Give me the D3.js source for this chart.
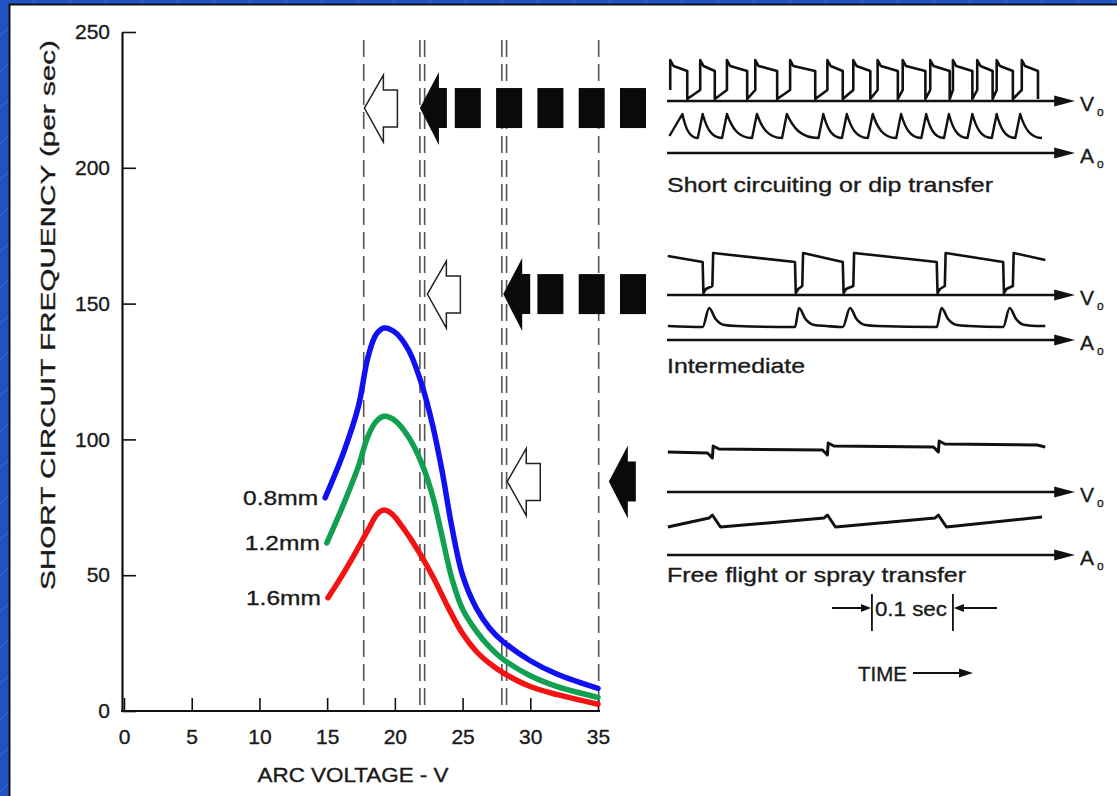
<!DOCTYPE html>
<html><head><meta charset="utf-8">
<script src="https://cdnjs.cloudflare.com/ajax/libs/d3/7.8.5/d3.min.js"></script>
<style>
body{margin:0;background:#2152c2;}
svg{display:block;}
text{font-family:"Liberation Sans",Arial,Helvetica,sans-serif;fill:#1a1a1a;stroke:#1a1a1a;stroke-width:0.35px;}
</style>
</head><body>
<svg id="c" width="1117" height="796"></svg>
<script>
// ---------------- DATA ----------------
const xTicks = [0, 5, 10, 15, 20, 25, 30, 35];
const yTicks = [0, 50, 100, 150, 200, 250];
const xTitle = "ARC VOLTAGE - V";
const yTitle = "SHORT CIRCUIT FREQUENCY (per sec)";

const wireLabels = ["0.8mm", "1.2mm", "1.6mm"];
// arc voltage (V) and short circuit frequency (per sec) per wire size
const volt08 = [14.85, 16.2, 17.3, 18.0, 18.6, 19.2, 20.0, 21.0, 22.0, 22.8, 23.5, 24.2, 25.0, 26.0, 27.0, 28.0, 30.0, 32.0, 35.0];
const freq08 = [78.5, 95.0, 112.0, 130.0, 138.5, 141.0, 139.5, 133.0, 120.0, 105.0, 88.0, 68.0, 50.0, 38.0, 30.5, 25.5, 18.5, 13.5, 8.3];
const volt12 = [14.98, 16.2, 17.3, 18.0, 18.6, 19.2, 20.0, 21.0, 22.0, 22.8, 23.5, 24.2, 25.0, 26.0, 27.0, 28.0, 30.0, 32.0, 35.0];
const freq12 = [61.9, 76.0, 90.0, 101.0, 106.5, 108.5, 107.0, 101.0, 91.0, 79.0, 64.0, 49.0, 37.5, 29.5, 23.5, 19.0, 13.0, 9.0, 5.0];
const volt16 = [15.06, 16.0, 17.0, 18.0, 18.7, 19.2, 19.8, 20.6, 21.6, 22.8, 24.0, 25.0, 26.0, 27.0, 28.0, 30.0, 32.0, 35.0];
const freq16 = [41.7, 49.0, 57.5, 66.5, 72.5, 74.0, 72.5, 67.5, 60.0, 49.5, 37.5, 28.5, 22.0, 17.5, 14.0, 9.0, 6.0, 2.5];

// transfer-mode boundaries (V)
const boundaries = [17.7, 21.85, 22.2, 27.9, 28.25, 35.05];

// arrows: hollow tip voltage, filled tip voltage, frequency level
const arrowHollowV = [17.75, 22.4, 28.3];
const arrowFilledV = [21.85, 28.0, 35.8];
const arrowLevelF = [222, 153.5, 84.5];
const arrowSquares = [5, 3, 0];

// waveform event times (s)
const modeNames = ["Short circuiting or dip transfer", "Intermediate", "Free flight or spray transfer"];
const dipRise = [0.004, 0.041, 0.074, 0.109, 0.152, 0.198, 0.230, 0.260, 0.291, 0.325, 0.353, 0.383, 0.407, 0.438];
const dipFall = [0.025, 0.059, 0.099, 0.136, 0.183, 0.217, 0.251, 0.285, 0.319, 0.349, 0.377, 0.402, 0.427, 0.458];
const dipPeak = [0.019, 0.044, 0.074, 0.111, 0.148, 0.193, 0.222, 0.254, 0.289, 0.320, 0.348, 0.377, 0.407, 0.436];
const midFall = [0.044, 0.158, 0.217, 0.333, 0.415];
const midRise = [0.056, 0.167, 0.230, 0.343, 0.427];
const sprayDrop = [0.056, 0.198, 0.335];
const traceEnd = 0.467;
const scaleBar = [0.253, 0.353];
const scaleLabel = "0.1 sec";
const timeLabel = "TIME";

// ---------------- LAYOUT ----------------
const svg = d3.select("#c");
const W = 1117, H = 796;
const FS = 21;

// background
const defs = svg.append("defs");
const pat = defs.append("pattern").attr("id", "diag").attr("patternUnits", "userSpaceOnUse")
  .attr("width", 36).attr("height", 36);
pat.append("rect").attr("width", 36).attr("height", 36).attr("fill", "#2152c2");
pat.append("line").attr("x1", 0).attr("y1", 36).attr("x2", 36).attr("y2", 0)
  .attr("stroke", "rgba(200,220,255,0.18)").attr("stroke-width", 1);
svg.append("rect").attr("width", W).attr("height", H).attr("fill", "url(#diag)");
svg.append("rect").attr("x", 10).attr("y", 5).attr("width", W - 10).attr("height", H - 5).attr("fill", "#fff");
svg.append("path").attr("d", `M9.5,${H} V4.5 H${W}`).attr("fill", "none").attr("stroke", "#111").attr("stroke-width", 2);

// scales
const x = d3.scaleLinear().domain([0, 35]).range([124, 598]);
const y = d3.scaleLinear().domain([0, 250]).range([711, 32]);

// boundaries (dashed)
svg.append("g").selectAll("line").data(boundaries).join("line")
  .attr("x1", d => x(d)).attr("x2", d => x(d))
  .attr("y1", 40).attr("y2", y(0))
  .attr("stroke", "#555").attr("stroke-width", 1.6).attr("stroke-dasharray", "17,7");

// axes
const gx = svg.append("g").attr("transform", `translate(0,${y(0)})`)
  .call(d3.axisBottom(x).tickValues(xTicks).tickSizeInner(-13).tickSizeOuter(0).tickPadding(18));
const gy = svg.append("g").attr("transform", `translate(${x(0) - 2},0)`)
  .call(d3.axisLeft(y).tickValues(yTicks).tickSizeInner(-14).tickSizeOuter(0).tickPadding(12));
[gx, gy].forEach(g => {
  g.select(".domain").attr("stroke", "#111").attr("stroke-width", 2.2);
  g.selectAll(".tick line").attr("stroke", "#111").attr("stroke-width", 1.6);
  g.selectAll(".tick text").attr("font-size", FS).attr("fill", "#1a1a1a")
    .attr("font-family", '"Liberation Sans",Arial,sans-serif');
});
gx.select(".domain").attr("d", `M${x(0) - 3},0H${x(35) + 2}`);

svg.append("text").attr("x", 353).attr("y", 782).attr("text-anchor", "middle")
  .attr("font-size", FS).attr("textLength", 191).attr("lengthAdjust", "spacingAndGlyphs").text(xTitle);
svg.append("text").attr("transform", "translate(55,315) rotate(-90)").attr("text-anchor", "middle")
  .attr("font-size", FS).attr("textLength", 550).attr("lengthAdjust", "spacingAndGlyphs").text(yTitle);

// curves
const series = [[volt08, freq08], [volt12, freq12], [volt16, freq16]];
const colors = ["#1010f2", "#10a050", "#f51212"];
const line = d3.line().x(d => x(d[0])).y(d => y(d[1])).curve(d3.curveCatmullRom.alpha(0.5));
series.forEach((s, i) => {
  const pts = s[0].map((v, k) => [v, s[1][k]]);
  svg.append("path").attr("d", line(pts)).attr("fill", "none")
    .attr("stroke", colors[i]).attr("stroke-width", 5.5).attr("stroke-linecap", "round");
  svg.append("text").attr("x", x(pts[0][0]) - 7).attr("y", y(pts[0][1]) + 7)
    .attr("text-anchor", "end").attr("font-size", FS).attr("textLength", 75)
    .attr("lengthAdjust", "spacingAndGlyphs").text(wireLabels[i]);
});

// arrows
arrowLevelF.forEach((f, i) => {
  const cy = y(f);
  const hx = x(arrowHollowV[i]);
  const hp = [[0, 0], [19, -33], [19, -18], [33, -18], [33, 19], [19, 19], [19, 34]].map(p => [hx + p[0], cy + p[1]]);
  svg.append("polygon").attr("points", hp.map(p => p.join(",")).join(" "))
    .attr("fill", "#fff").attr("stroke", "#222").attr("stroke-width", 1.5);
  const fx = x(arrowFilledV[i]);
  const fp = [[0, 0], [19, -36], [19, -20], [27, -20], [27, 20], [19, 20], [19, 37]].map(p => [fx + p[0], cy + p[1]]);
  svg.append("polygon").attr("points", fp.map(p => p.join(",")).join(" ")).attr("fill", "#0a0a0a");
  for (let k = 0; k < arrowSquares[i]; k++) {
    const sx = 620 - (arrowSquares[i] - 1 - k) * 41.3;
    svg.append("rect").attr("x", sx).attr("y", cy - 20).attr("width", 26).attr("height", 40).attr("fill", "#0a0a0a");
  }
});

// ---------------- WAVEFORMS ----------------
const t = d3.scaleLinear().domain([0, 0.5]).range([667, 1072]);
const rows = [
  { vAxis: 101, aAxis: 153 },
  { vAxis: 295, aAxis: 340 },
  { vAxis: 492, aAxis: 555 }
];
const ink = "#111";

function axisArrow(yy) {
  svg.append("line").attr("x1", t(0)).attr("x2", t(0.49)).attr("y1", yy).attr("y2", yy)
    .attr("stroke", ink).attr("stroke-width", 2.4);
  svg.append("polygon").attr("points", `${t(0.5) + 3},${yy} ${t(0.478)},${yy - 5.5} ${t(0.478)},${yy + 5.5}`).attr("fill", ink);
}
function label(letter, yy) {
  svg.append("text").attr("x", 1080).attr("y", yy + 10).attr("font-size", FS).text(letter);
  svg.append("text").attr("x", 1097).attr("y", yy + 15).attr("font-size", 12).text("o");
}
function trace(pts, curve, w) {
  const l = d3.line().x(d => t(d[0])).y(d => d[1]).curve(curve || d3.curveLinear);
  svg.append("path").attr("d", l(pts)).attr("fill", "none").attr("stroke", ink)
    .attr("stroke-width", w || 2.6).attr("stroke-linejoin", "round");
}

rows.forEach(r => {
  axisArrow(r.vAxis); axisArrow(r.aAxis);
  label("V", r.vAxis); label("A", r.aAxis);
});

const nameLen = [326, 138, 299];
const nameBase = [191.5, 372.5, 581.5];
modeNames.forEach((n, i) => {
  svg.append("text").attr("x", 667).attr("y", nameBase[i]).attr("font-size", FS)
    .attr("textLength", nameLen[i]).attr("lengthAdjust", "spacingAndGlyphs").text(n);
});

// row 1 voltage
{
  const top = 66, bot = 99;
  const pts = [];
  dipRise.forEach((rr, k) => {
    pts.push([rr, bot - 9]);
    pts.push([rr, top - 6]);
    pts.push([rr + 0.004, top]);
    pts.push([dipFall[k], top + 5]);
    pts.push([dipFall[k], bot]);
  });
  trace(pts);
  const pk = 114, tr = 138;
  const p = d3.path();
  p.moveTo(t(0.003), tr - 2);
  dipPeak.forEach((pp, k) => {
    p.lineTo(t(pp), pk);
    const nxt = k + 1 < dipPeak.length ? dipPeak[k + 1] - 0.006 : traceEnd - 0.004;
    const d = nxt - pp;
    p.bezierCurveTo(t(pp + d * 0.2), pk + 14, t(pp + d * 0.45), tr, t(nxt), tr);
  });
  svg.append("path").attr("d", p.toString()).attr("fill", "none").attr("stroke", ink)
    .attr("stroke-width", 2.4).attr("stroke-linejoin", "round");
}
// row 2
{
  const top = 253, bot = 293;
  const pts = [[0.001, 256]];
  midFall.forEach((ff, k) => {
    pts.push([ff, top + 9]);
    pts.push([ff + 0.001, bot]);
    pts.push([ff + 0.004, bot - 4]);
    pts.push([midRise[k], bot - 7]);
    pts.push([midRise[k] + 0.001, top]);
    if (k + 1 >= midFall.length) pts.push([traceEnd, top + 7]);
  });
  trace(pts);
  const base = 327, pk = 308;
  const a = [[0.001, 326]];
  midFall.forEach((ff, k) => {
    a.push([ff, base]);
    a.push([midRise[k] - 0.004, pk]);
    a.push([midRise[k] + 0.004, base - 8]);
    a.push([midRise[k] + 0.015, base - 2]);
    a.push([midRise[k] + 0.03, base - 1]);
  });
  a.push([traceEnd, base - 1]);
  trace(a, d3.curveMonotoneX);
}
// row 3
{
  const levels = [452, 449, 446, 444];
  const pts = [[0.001, 452]];
  sprayDrop.forEach((s, k) => {
    pts.push([s - 0.006, levels[k] + 1]);
    pts.push([s, levels[k] + 6]);
    pts.push([s + 0.001, levels[k + 1] - 3]);
    pts.push([s + 0.008, levels[k + 1]]);
  });
  pts.push([traceEnd - 0.01, levels[3] + 1]);
  pts.push([traceEnd, levels[3] + 3]);
  trace(pts, null, 3);
  const a = [[0.001, 527]];
  sprayDrop.forEach((s) => {
    a.push([s - 0.004, 518]);
    a.push([s, 515]);
    a.push([s + 0.01, 527]);
  });
  a.push([traceEnd - 0.004, 517]);
  trace(a, null, 3);
}

// scale bar and time arrow
{
  const b0 = t(scaleBar[0]), b1 = t(scaleBar[1]);
  [b0, b1].forEach(b => svg.append("line").attr("x1", b).attr("x2", b).attr("y1", 594).attr("y2", 631)
    .attr("stroke", ink).attr("stroke-width", 1.8));
  svg.append("line").attr("x1", b0 - 40).attr("x2", b0 - 8).attr("y1", 608).attr("y2", 608).attr("stroke", ink).attr("stroke-width", 1.8);
  svg.append("polygon").attr("points", `${b0 - 1},608 ${b0 - 11},604 ${b0 - 11},612`).attr("fill", ink);
  svg.append("line").attr("x1", b1 + 8).attr("x2", b1 + 44).attr("y1", 608).attr("y2", 608).attr("stroke", ink).attr("stroke-width", 1.8);
  svg.append("polygon").attr("points", `${b1 + 1},608 ${b1 + 11},604 ${b1 + 11},612`).attr("fill", ink);
  svg.append("text").attr("x", b0 + 3).attr("y", 615.5).attr("font-size", FS)
    .attr("textLength", 72).attr("lengthAdjust", "spacingAndGlyphs").text(scaleLabel);
  svg.append("text").attr("x", 858).attr("y", 681).attr("font-size", FS)
    .attr("textLength", 49).attr("lengthAdjust", "spacingAndGlyphs").text(timeLabel);
  svg.append("line").attr("x1", 913).attr("x2", 962).attr("y1", 673).attr("y2", 673).attr("stroke", ink).attr("stroke-width", 1.8);
  svg.append("polygon").attr("points", `973,673 959,668.5 959,677.5`).attr("fill", ink);
}
</script>
</body></html>
